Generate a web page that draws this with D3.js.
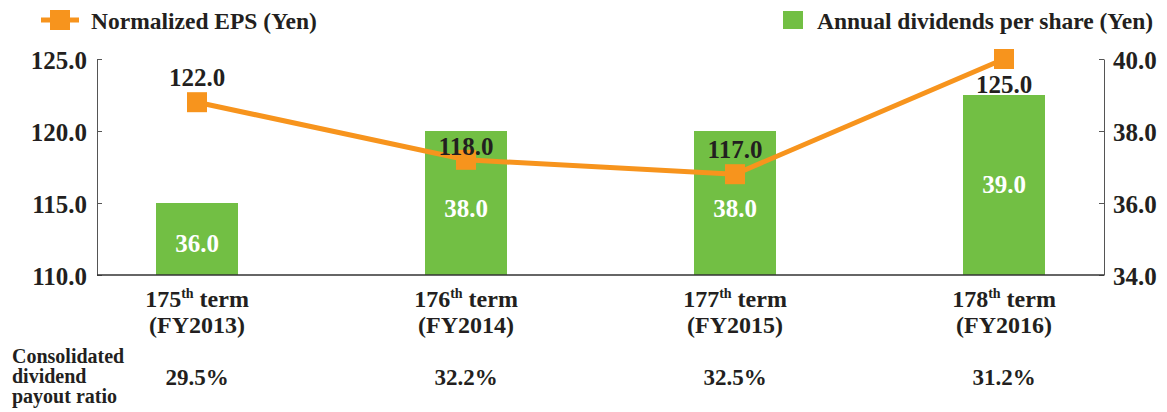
<!DOCTYPE html>
<html>
<head>
<meta charset="utf-8">
<script src="https://cdn.jsdelivr.net/npm/d3@7"></script>
<style>
  html, body { margin: 0; padding: 0; background: #fff; }
</style>
</head>
<body>
<div id="chart"></div>
<script>
// Data
const termNums = ['175', '176', '177', '178'];
const fiscalYears = ['FY2013', 'FY2014', 'FY2015', 'FY2016'];
const epsValues = [122.0, 118.0, 117.0, 125.0];
const dividendValues = [36.0, 38.0, 38.0, 39.0];
const payoutRatios = ['29.5%', '32.2%', '32.5%', '31.2%'];
const leftTicks = [110, 115, 120, 125];
const rightTicks = [34, 36, 38, 40];

// Layout
const width = 1167, height = 412;
const plot = { left: 97, right: 1104, top: 59, bottom: 275 };
const colors = { eps: '#f7941d', div: '#72bf44', text: '#231f20' };
const FONT = 'Liberation Serif';
const epsLabelDy = [-16, -5, -16, 34];   // hand-placed to avoid overlap
const divLabelDy = [13, 14, 14, 8];

const svg = d3.select('#chart').append('svg')
  .attr('width', width)
  .attr('height', height);

const x = d3.scalePoint().domain(fiscalYears).range([197, 1004]);
const yL = d3.scaleLinear().domain([110, 125]).range([plot.bottom, plot.top]);
const yR = d3.scaleLinear().domain([34, 40]).range([plot.bottom, plot.top]);
const barW = 82;
const fmt = d3.format('.1f');

// Bars (dividends, right axis)
svg.append('g').selectAll('rect')
  .data(dividendValues)
  .join('rect')
  .attr('x', (d, i) => x(fiscalYears[i]) - barW / 2)
  .attr('y', d => yR(d))
  .attr('width', barW)
  .attr('height', d => plot.bottom - yR(d))
  .attr('fill', colors.div);

// Axes
const leftAxis = svg.append('g')
  .attr('transform', `translate(${plot.left},0)`)
  .call(d3.axisLeft(yL).tickValues(leftTicks).tickFormat(fmt)
    .tickSizeInner(-5).tickSizeOuter(0).tickPadding(10));

const rightAxis = svg.append('g')
  .attr('transform', `translate(${plot.right},0)`)
  .call(d3.axisRight(yR).tickValues(rightTicks).tickFormat(fmt)
    .tickSizeInner(-5).tickSizeOuter(0).tickPadding(9));

[leftAxis, rightAxis].forEach(g => {
  g.select('.domain').attr('stroke', '#555').attr('stroke-width', 1);
  g.selectAll('.tick line').attr('stroke', '#555');
  g.selectAll('.tick text')
    .attr('font-size', 25)
    .attr('dy', '0.36em');
});

svg.append('line')
  .attr('x1', plot.left).attr('x2', plot.right)
  .attr('y1', plot.bottom).attr('y2', plot.bottom)
  .attr('stroke', '#333')
  .attr('stroke-width', 1.5);

// Bar labels
svg.append('g').selectAll('text')
  .data(dividendValues)
  .join('text')
  .attr('x', (d, i) => x(fiscalYears[i]))
  .attr('y', (d, i) => (yR(d) + plot.bottom) / 2 + divLabelDy[i])
  .attr('text-anchor', 'middle')
  .attr('font-size', 25)
  .attr('class', 'white')
  .text(d => fmt(d));

// EPS line
const line = d3.line()
  .x((d, i) => x(fiscalYears[i]))
  .y(d => yL(d));

svg.append('path')
  .datum(epsValues)
  .attr('d', line)
  .attr('fill', 'none')
  .attr('stroke', colors.eps)
  .attr('stroke-width', 5);

svg.append('g').selectAll('rect')
  .data(epsValues)
  .join('rect')
  .attr('x', (d, i) => x(fiscalYears[i]) - 10)
  .attr('y', d => yL(d) - 10)
  .attr('width', 20)
  .attr('height', 20)
  .attr('fill', colors.eps);

svg.append('g').selectAll('text')
  .data(epsValues)
  .join('text')
  .attr('x', (d, i) => x(fiscalYears[i]))
  .attr('y', (d, i) => yL(d) + epsLabelDy[i])
  .attr('text-anchor', 'middle')
  .attr('font-size', 25)
  .text(d => fmt(d));

// Category labels
const cat = svg.append('g').selectAll('g')
  .data(fiscalYears)
  .join('g')
  .attr('transform', d => `translate(${x(d)},0)`);

const termText = cat.append('text')
  .attr('y', 307)
  .attr('text-anchor', 'middle')
  .attr('font-size', 24);
termText.append('tspan').text((d, i) => termNums[i]);
termText.append('tspan').attr('font-size', 14).attr('dy', -9).text('th');
termText.append('tspan').attr('dy', 9).text(' term');

cat.append('text')
  .attr('y', 333)
  .attr('text-anchor', 'middle')
  .attr('font-size', 24)
  .text(d => `(${d})`);

cat.append('text')
  .attr('y', 385)
  .attr('text-anchor', 'middle')
  .attr('font-size', 23)
  .text((d, i) => payoutRatios[i]);

// Payout row title
const rowTitle = svg.append('text')
  .attr('x', 12)
  .attr('font-size', 20);
['Consolidated', 'dividend', 'payout ratio'].forEach((t, i) => {
  rowTitle.append('tspan').attr('x', 12).attr('y', 363 + i * 20).text(t);
});

// Legend
const legend = svg.append('g');
legend.append('line')
  .attr('x1', 41).attr('x2', 79).attr('y1', 20).attr('y2', 20)
  .attr('stroke', colors.eps).attr('stroke-width', 5);
legend.append('rect')
  .attr('x', 50).attr('y', 10).attr('width', 20).attr('height', 20)
  .attr('fill', colors.eps);
legend.append('text')
  .attr('x', 91).attr('y', 29)
  .attr('font-size', 23.5)
  .text('Normalized EPS (Yen)');

legend.append('rect')
  .attr('x', 783).attr('y', 11).attr('width', 20).attr('height', 18)
  .attr('fill', colors.div);
legend.append('text')
  .attr('x', 817).attr('y', 29)
  .attr('font-size', 23.5)
  .text('Annual dividends per share (Yen)');

// font and colour set on every text element directly
svg.selectAll('text')
  .attr('font-family', FONT)
  .attr('font-weight', 'bold')
  .attr('fill', function () { return this.classList.contains('white') ? '#fff' : colors.text; });
</script>
</body>
</html>
